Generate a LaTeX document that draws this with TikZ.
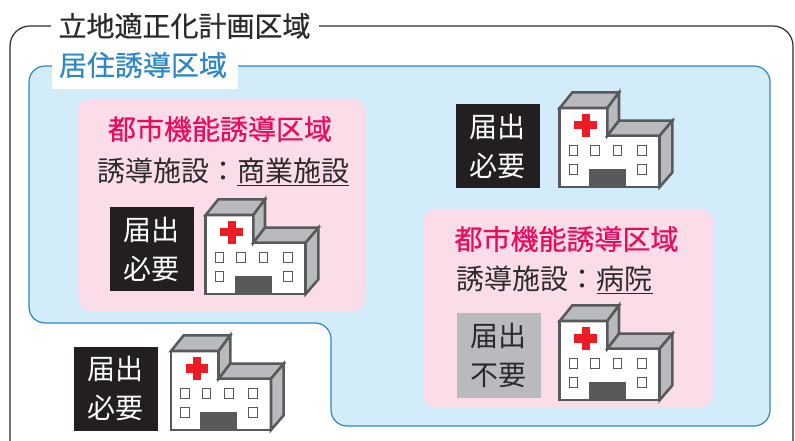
\documentclass[tikz,border=0pt]{standalone}
\usepackage{fontspec}
\setmainfont{Noto Sans CJK JP}
\newfontfamily\heavyjp[FakeBold=0.5]{Noto Sans CJK JP}
\definecolor{framegray}{HTML}{2B2B2D}
\definecolor{zoneblue}{HTML}{2E88C8}
\definecolor{zonefill}{HTML}{D3ECFA}
\definecolor{pinkfill}{HTML}{FBDCE9}
\definecolor{pinktext}{HTML}{EA0A5E}
\definecolor{blackbox}{HTML}{231F20}
\definecolor{graybox}{HTML}{B8BABD}
\definecolor{wallgray}{HTML}{58595B}
\definecolor{crossred}{HTML}{ED1C24}
\tikzset{
    jptext/.style={inner sep=0pt,text=framegray,font=\fontsize{21}{29.5}\selectfont},
    jpheavy/.style={inner sep=0pt,font=\fontsize{21}{29}\selectfont\heavyjp},
    todoke/.style={jptext,minimum size=63pt,align=center,text=white,fill=blackbox},
    fuyou/.style={jptext,minimum size=63pt,align=center,fill=graybox},
    hospital/.pic={
        \draw[wallgray,line width=1.9pt,fill=white] (0,-79) -- (47.7,-79) -- (47.7,-51.3) -- (100,-51.3) -- (100,0) -- (0,0) -- cycle;
        \draw[wallgray,line width=1.9pt,fill=graybox] (0,-79) -- (12.7,-94.7) -- (59.3,-94.7) -- (47.7,-79) -- cycle;
        \draw[wallgray,line width=1.9pt,fill=graybox] (47.7,-79) -- (59.3,-94.7) -- (59.3,-66.3) -- (47.7,-51.3) -- cycle;
        \draw[wallgray,line width=1.9pt,fill=graybox] (47.7,-51.3) -- (59.3,-66.3) -- (112.7,-66.3) -- (100,-51.3) -- cycle;
        \draw[wallgray,line width=1.9pt,fill=graybox] (100,-51.3) -- (112.7,-66.3) -- (112.7,-14.7) -- (100,0) -- cycle;
        \fill[crossred] (14.7,-65.8) rectangle (37.3,-57.5);
        \fill[crossred] (21.9,-73) rectangle (30.1,-50.3);
        \foreach \wx in {9.5,31.2,53.5,77.9}{
            \draw[wallgray,line width=0.8pt] (\wx,-41.5) rectangle ++(8.6,10);
        }
        \foreach \wx in {9.5,77.9}{
            \draw[wallgray,line width=0.8pt] (\wx,-22.5) rectangle ++(8.6,10);
        }
        \fill[wallgray] (29.3,-18) rectangle (66,0);
    }
}
\begin{document}
\begin{tikzpicture}[x=0.75pt,y=-0.75pt]
    \useasboundingbox (0,0) rectangle (795,441);
    \draw[framegray,line width=0.9pt,rounded corners=15] (10,441) -- (10,26) -- (793,26) -- (793,441);
    \node[jpheavy,fill=white,minimum width=201pt,minimum height=24pt,text=framegray] (rittekika) at (184.5,26) {立地適正化計画区域};
    \draw[zoneblue,line width=0.9pt,fill=zonefill,rounded corners=12] (29,66) -- (770,66) -- (770,426) -- (331,426) -- (331,323) -- (29,323) -- cycle;
    \node[fill=white,inner sep=0pt,minimum width=139.5pt,minimum height=29pt] (kyojuback) at (145,69.5) {};
    \node[jpheavy,text=zoneblue] (kyoju) at (143,65) {居住誘導区域};
    \fill[pinkfill,rounded corners=9] (78,99) rectangle (365,311);
    \fill[pinkfill,rounded corners=9] (423,209) rectangle (713,407);
    \node[jpheavy,text=pinktext] (toshikinoA) at (220,129) {都市機能誘導区域};
    \node[jptext] (shisetsuA) at (223,172) {誘導施設：\underline{商業施設}};
    \node[jpheavy,text=pinktext] (toshikinoB) at (566.5,239) {都市機能誘導区域};
    \node[jptext] (shisetsuB) at (554.5,280) {誘導施設：\underline{病院}};
    \node[todoke] (boxA) at (151.5,249.5) {届出\\必要};
    \node[todoke] (boxB) at (497.5,146.5) {届出\\必要};
    \node[fuyou] (boxC) at (498.5,355.5) {届出\\不要};
    \node[todoke] (boxD) at (115.5,388.5) {届出\\必要};
    \pic at (205.7,294) {hospital};
    \pic at (559.7,187) {hospital};
    \pic at (559.7,400) {hospital};
    \pic at (171,430) {hospital};
\end{tikzpicture}
\end{document}
